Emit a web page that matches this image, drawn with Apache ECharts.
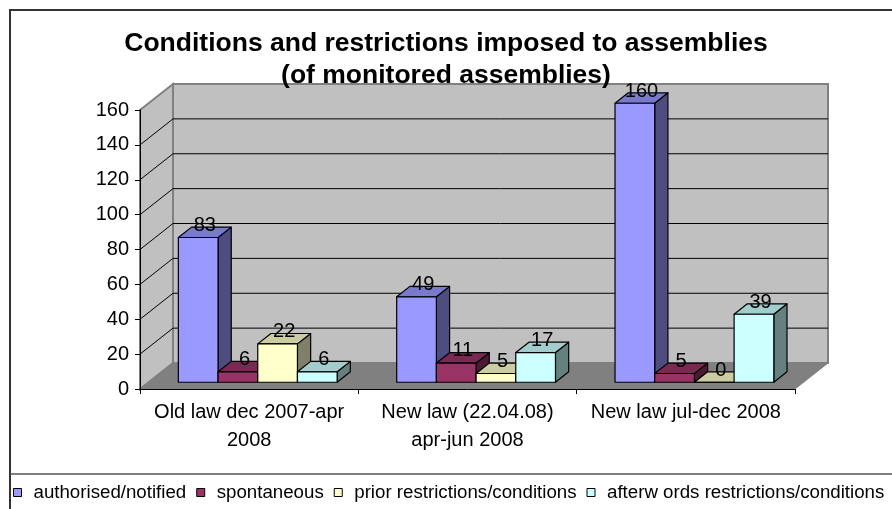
<!DOCTYPE html>
<html>
<head>
<meta charset="utf-8">
<title>Conditions and restrictions imposed to assemblies</title>
<script src="https://cdn.jsdelivr.net/npm/echarts@6/dist/echarts.min.js"></script>
<style>
  html, body { margin: 0; padding: 0; background: #ffffff; }
  #chart { width: 892px; height: 509px; }
</style>
</head>
<body>
<div id="chart"></div>
<script>
// Period categories along the horizontal axis
const categories = [
  'Old law dec 2007-apr\n2008',
  'New law (22.04.08)\napr-jun 2008',
  'New law jul-dec 2008'
];

// Series names
const seriesNames = [
  'authorised/notified',
  'spontaneous',
  'prior restrictions/conditions',
  'afterw ords restrictions/conditions'
];

// Values per period
const authorised = [83, 49, 160];
const spontaneous = [6, 11, 5];
const priorRestrictions = [22, 5, 0];
const afterwordsRestrictions = [6, 17, 39];

// Value axis
const yMin = 0;
const yMax = 160;
const yStep = 20;

const seriesValues = [authorised, spontaneous, priorRestrictions, afterwordsRestrictions];

// Face colours: front, top, side
const palette = [
  { front: '#9999FF', top: '#7A7ACC', side: '#4D4D80' },
  { front: '#993366', top: '#7A2952', side: '#4D1A33' },
  { front: '#FFFFCC', top: '#CCCCA3', side: '#80806A' },
  { front: '#CCFFFF', top: '#A3CCCC', side: '#668080' }
];

// Oblique depth of the plot box (pixels)
const DX = 33, DY = -26;
// Depth placement of the columns inside the box (fractions of full depth)
const BAR_FRONT = 0.26, BAR_DEPTH = 0.4;

const FONT = "'Liberation Sans', Arial, sans-serif";

const chart = echarts.init(document.getElementById('chart'), null, { renderer: 'canvas' });

// Walls and floor of the 3D box
function renderWalls(params, api) {
  const cs = params.coordSys;
  const x0 = cs.x, y0 = cs.y, w = cs.width, h = cs.height;
  const xb = x0 + w, yb = y0 + h;
  return {
    type: 'group',
    children: [
      { // back wall
        type: 'polygon',
        shape: { points: [[x0 + DX, y0 + DY], [xb + DX, y0 + DY], [xb + DX, yb + DY], [x0 + DX, yb + DY]] },
        style: { fill: '#C0C0C0', stroke: '#808080', lineWidth: 2 }
      },
      { // side wall
        type: 'polygon',
        shape: { points: [[x0, y0], [x0 + DX, y0 + DY], [x0 + DX, yb + DY], [x0, yb]] },
        style: { fill: '#C0C0C0', stroke: '#808080', lineWidth: 2 }
      },
      { // floor
        type: 'polygon',
        shape: { points: [[x0, yb], [xb, yb], [xb + DX, yb + DY], [x0 + DX, yb + DY]] },
        style: { fill: '#808080', stroke: '#808080', lineWidth: 1 }
      }
    ]
  };
}

// Gridlines across the side wall and the back wall
function renderGridline(params, api) {
  const v = api.value(0);
  if (v <= yMin || v >= yMax) return null;
  const cs = params.coordSys;
  const y = api.coord([0, v])[1];
  const x0 = cs.x, xb = cs.x + cs.width;
  return {
    type: 'group',
    children: [
      { type: 'line', shape: { x1: x0, y1: y, x2: x0 + DX, y2: y + DY }, style: { stroke: '#000', lineWidth: 1 } },
      { type: 'line', shape: { x1: x0 + DX, y1: y + DY, x2: xb + DX, y2: y + DY }, style: { stroke: '#000', lineWidth: 1 } }
    ]
  };
}

// 3D column: front, top and right faces plus value label
function makeBarRenderer(s) {
  const col = palette[s];
  return function (params, api) {
    const cat = api.value(0);
    const v = api.value(1);
    const base = api.coord([cat, 0]);
    const top = api.coord([cat, v]);
    const catW = api.size([1, 0])[0];
    const bw = catW / 5.5;
    const fx = DX * BAR_FRONT, fy = DY * BAR_FRONT;
    const bx = DX * BAR_DEPTH, by = DY * BAR_DEPTH;
    const x0 = base[0] - 2 * bw + s * bw + fx;
    const x1 = x0 + bw;
    const yb = base[1] + fy;
    const yt = top[1] + fy;
    const stroke = { stroke: '#000', lineWidth: 1.2, lineJoin: 'round' };
    return {
      type: 'group',
      children: [
        {
          type: 'polygon',
          shape: { points: [[x1, yt], [x1, yb], [x1 + bx, yb + by], [x1 + bx, yt + by]] },
          style: Object.assign({ fill: col.side }, stroke)
        },
        {
          type: 'polygon',
          shape: { points: [[x0, yt], [x1, yt], [x1 + bx, yt + by], [x0 + bx, yt + by]] },
          style: Object.assign({ fill: col.top }, stroke)
        },
        {
          type: 'polygon',
          shape: { points: [[x0, yt], [x1, yt], [x1, yb], [x0, yb]] },
          style: Object.assign({ fill: col.front }, stroke)
        },
        {
          type: 'text',
          z2: 10,
          style: {
            x: x0 + bw / 2 + bx / 2,
            y: yt + by / 2 - 7,
            text: String(v),
            align: 'center',
            verticalAlign: 'middle',
            fill: '#000',
            font: '20px ' + FONT
          }
        }
      ]
    };
  };
}

const yTicks = [];
for (let v = yMin; v <= yMax; v += yStep) yTicks.push(v);

const barSeries = seriesValues.map((vals, s) => ({
  type: 'custom',
  name: seriesNames[s],
  coordinateSystem: 'cartesian2d',
  z: 3 + s,
  itemStyle: { color: palette[s].front },
  renderItem: makeBarRenderer(s),
  data: vals.map((v, i) => [i, v]),
  encode: { x: 0, y: 1 },
  silent: true,
  animation: false
}));

const option = {
  animation: false,
  backgroundColor: '#ffffff',
  title: {
    text: 'Conditions and restrictions imposed to assemblies\n(of monitored assemblies)',
    left: 'center',
    top: 23,
    textStyle: { fontFamily: FONT, fontSize: 26.5, fontWeight: 'bold', color: '#000', lineHeight: 32 }
  },
  legend: {
    left: 13,
    top: 483,
    width: 1200,
    padding: 0,
    itemWidth: 8,
    itemHeight: 8,
    itemGap: 10,
    icon: 'rect',
    selectedMode: false,
    textStyle: { fontFamily: FONT, fontSize: 18.7, color: '#000', padding: [0, 0, 0, 7] },
    data: seriesNames.map((n, s) => ({
      name: n,
      icon: 'rect',
      itemStyle: { color: palette[s].front, borderColor: '#000', borderWidth: 1 }
    }))
  },
  graphic: [
    { // outer chart border
      type: 'rect', z: 100, silent: true,
      shape: { x: 10, y: 10, width: 900, height: 520 },
      style: { fill: null, stroke: '#333', lineWidth: 2 }
    },
    { // legend separator
      type: 'line', z: 100, silent: true,
      shape: { x1: 10, y1: 474, x2: 892, y2: 474 },
      style: { stroke: '#555', lineWidth: 1.5 }
    }
  ],
  grid: { left: 140, top: 110, width: 655, height: 279, containLabel: false },
  xAxis: {
    type: 'category',
    data: categories,
    z: 10,
    axisLine: { show: true, lineStyle: { color: '#000', width: 1 } },
    axisTick: { show: true, length: 5, alignWithLabel: false, lineStyle: { color: '#000' } },
    axisLabel: { fontFamily: FONT, fontSize: 20, color: '#000', margin: 9, lineHeight: 28, interval: 0 },
    splitLine: { show: false }
  },
  yAxis: {
    type: 'value',
    min: yMin,
    max: yMax,
    interval: yStep,
    z: 10,
    axisLine: { show: true, lineStyle: { color: '#000', width: 1 } },
    axisTick: { show: true, length: 5, lineStyle: { color: '#000' } },
    axisLabel: { fontFamily: FONT, fontSize: 20, color: '#000', margin: 11 },
    splitLine: { show: false }
  },
  series: [
    {
      type: 'custom',
      name: 'walls',
      coordinateSystem: 'cartesian2d',
      z: 1,
      renderItem: renderWalls,
      data: [[0, 0]],
      silent: true
    },
    {
      type: 'custom',
      name: 'gridlines',
      coordinateSystem: 'cartesian2d',
      z: 2,
      renderItem: renderGridline,
      data: yTicks.map(v => [v]),
      encode: { y: 0 },
      silent: true
    }
  ].concat(barSeries)
};

chart.setOption(option);
</script>
</body>
</html>
